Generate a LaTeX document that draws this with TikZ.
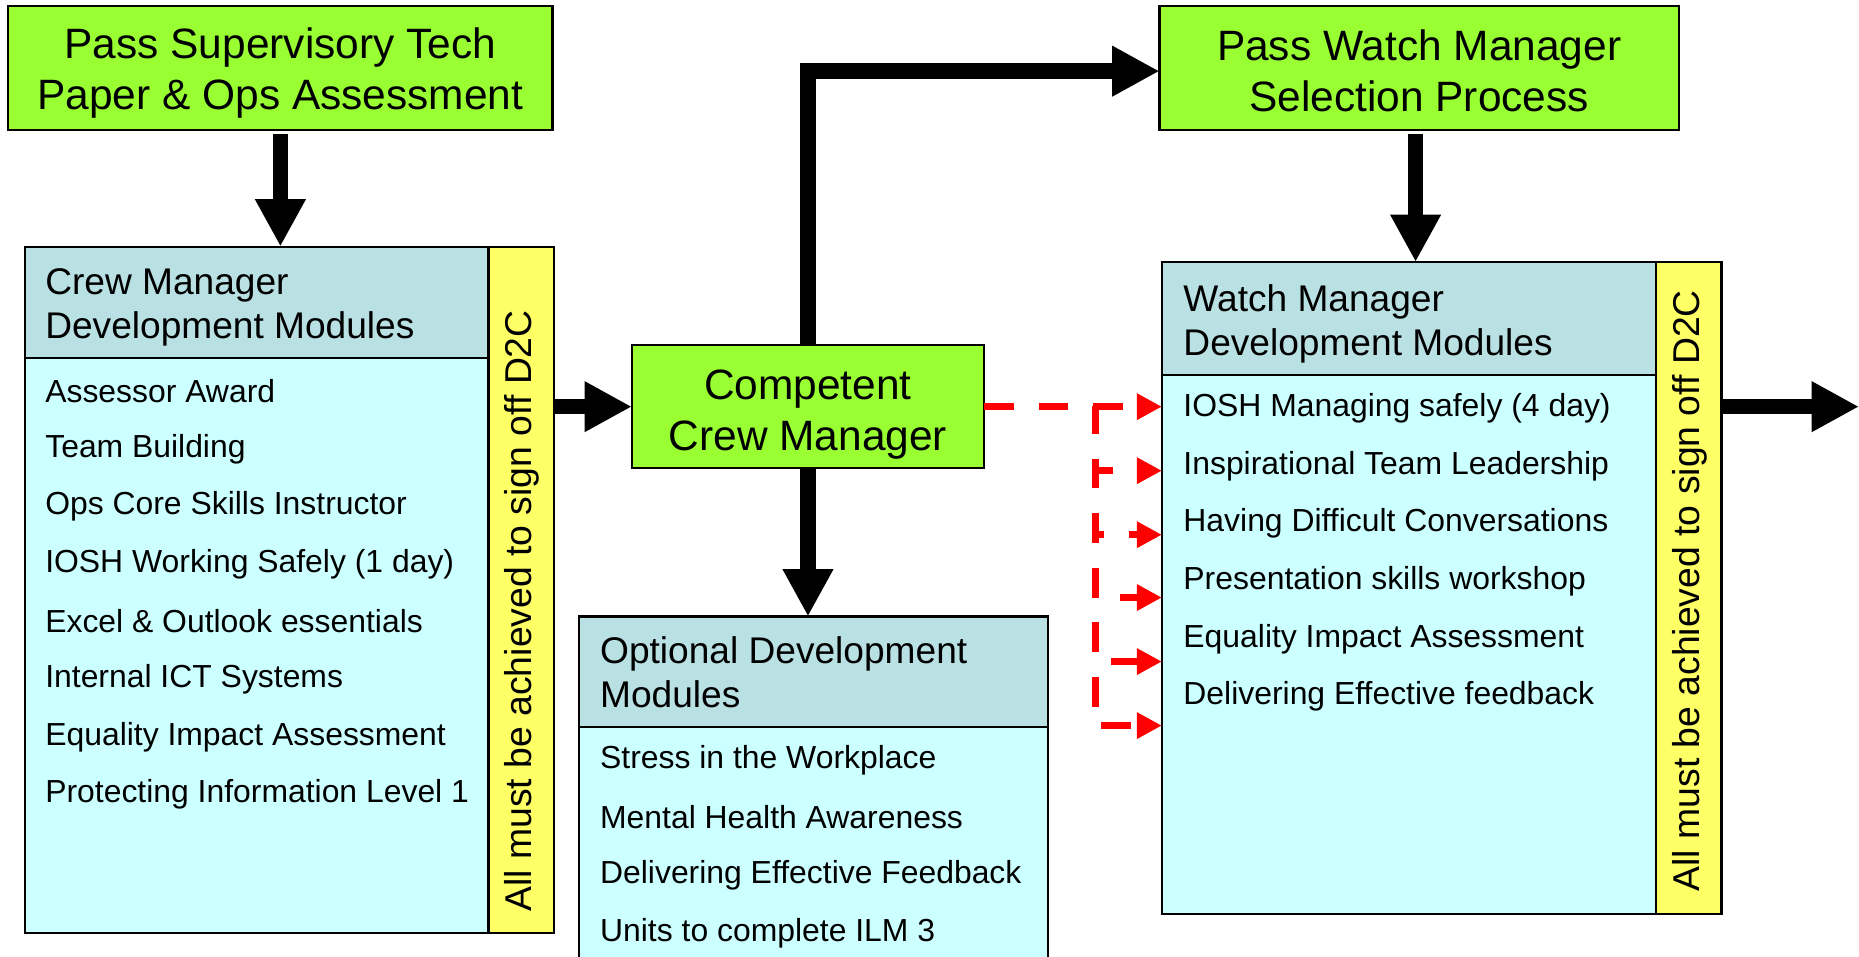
\documentclass[tikz,border=0pt]{standalone}
\usepackage{fontspec}
\setmainfont{Liberation Sans}
\usetikzlibrary{arrows.meta}

\definecolor{passgreen}{RGB}{153,255,51}
\definecolor{hdrblue}{RGB}{185,224,227}
\definecolor{bodycyan}{RGB}{204,255,255}
\definecolor{stripyellow}{RGB}{255,255,102}

\tikzset{
  box/.style={draw=black, line width=1.8pt, inner sep=0pt, outer sep=0pt, anchor=north west},
  greenbox/.style={box, fill=passgreen},
  hdrbox/.style={box, fill=hdrblue},
  bodybox/.style={box, fill=bodycyan},
  stripbox/.style={box, fill=stripyellow},
  bigtext/.style={font=\fontsize{35.8}{43}\selectfont, align=center, inner sep=0pt},
  hdrtext/.style={font=\fontsize{31.3}{37}\selectfont, align=left, anchor=west, inner sep=0pt},
  itemtext/.style={font=\fontsize{26.9}{32}\selectfont, anchor=west, inner sep=0pt},
  striptext/.style={font=\fontsize{31.5}{38}\selectfont, rotate=90, anchor=west, inner sep=0pt},
  bigarrow/.style={draw=black, line width=13pt, -{Triangle[length=40pt,width=40pt]}},
  redlink/.style={draw=red, line width=6pt, dash pattern=on 25pt off 21pt, -{Triangle[length=21pt,width=21pt]}}
}

\begin{document}
\begin{tikzpicture}[x=1pt, y=-1pt]
\path[use as bounding box] (0,0) rectangle (1568,807);
\clip (0,0) rectangle (1568,807);

% top entry boxes
\node[greenbox, minimum width=459pt, minimum height=105pt] (supv) at (7,5) {};
\node[bigtext] (supvtxt) at (236.5,62) {Pass Supervisory Tech\\Paper \& Ops Assessment};

\node[greenbox, minimum width=438pt, minimum height=105pt] (wmsel) at (978,5) {};
\node[bigtext] (wmseltxt) at (1197,60) {Pass Watch Manager\\Selection Process};

% crew manager modules
\node[bodybox, minimum width=391pt, minimum height=485pt] (crewbody) at (21,302) {};
\node[hdrbox, minimum width=391pt, minimum height=94pt] (crewhdr) at (21,208) {};
\node[stripbox, minimum width=55pt, minimum height=579pt] (crewstrip) at (412,208) {};
\node[hdrtext] (crewhdrtxt) at (38,259) {Crew Manager\\Development Modules};
\node[itemtext] (c1) at (38,330) {Assessor Award};
\node[itemtext] (c2) at (38,379) {Team Building};
\node[itemtext] (c3) at (38,427) {Ops Core Skills Instructor};
\node[itemtext] (c4) at (38,476) {IOSH Working Safely (1 day)};
\node[itemtext] (c5) at (38,524) {Excel \& Outlook essentials};
\node[itemtext] (c6) at (38,573) {Internal ICT Systems};
\node[itemtext] (c7) at (38,622) {Equality Impact Assessment};
\node[itemtext] (c8) at (38,670) {Protecting Information Level 1};
\node[striptext] (crewstriptxt) at (440,769) {All must be achieved to sign off D2C};

% competent crew manager
\node[greenbox, minimum width=297pt, minimum height=104pt] (comp) at (533,291) {};
\node[bigtext] (comptxt) at (681.5,350) {Competent\\Crew Manager};

% optional modules
\node[bodybox, minimum width=396pt, minimum height=230pt] (optbody) at (488,613) {};
\node[hdrbox, minimum width=396pt, minimum height=93pt] (opthdr) at (488,520) {};
\node[hdrtext] (opthdrtxt) at (506,567) {Optional Development\\Modules};
\node[itemtext] (o1) at (506,641) {Stress in the Workplace};
\node[itemtext] (o2) at (506,689) {Mental Health Awareness};
\node[itemtext] (o3) at (506,738) {Delivering Effective Feedback};
\node[itemtext] (o4) at (506,787) {Units to complete ILM 3};

% watch manager modules
\node[bodybox, minimum width=417pt, minimum height=455pt] (wmbody) at (980,316) {};
\node[hdrbox, minimum width=417pt, minimum height=95pt] (wmhdr) at (980,221) {};
\node[stripbox, minimum width=55pt, minimum height=550pt] (wmstrip) at (1397,221) {};
\node[hdrtext] (wmhdrtxt) at (998,273) {Watch Manager\\Development Modules};
\node[itemtext] (w1) at (998,344) {IOSH Managing safely (4 day)};
\node[itemtext] (w2) at (998,393) {Inspirational Team Leadership};
\node[itemtext] (w3) at (998,441) {Having Difficult Conversations};
\node[itemtext] (w4) at (998,490) {Presentation skills workshop};
\node[itemtext] (w5) at (998,539) {Equality Impact Assessment};
\node[itemtext] (w6) at (998,587) {Delivering Effective feedback};
\node[striptext] (wmstriptxt) at (1425,752) {All must be achieved to sign off D2C};

% connectors
\coordinate (exit) at (1568,343);
\draw[bigarrow, shorten <=3pt] (supv.south) -- (supv.south |- crewhdr.north);
\draw[bigarrow] (crewstrip.east |- comp.west) -- (comp.west);
\draw[bigarrow] (comp.north) |- (wmsel.west |- 0,60);
\draw[bigarrow] (comp.south) -- (comp.south |- opthdr.north);
\draw[bigarrow, shorten <=3pt] (wmsel.south -| 1194,0) -- (1194,0 |- wmhdr.north);
\draw[bigarrow] (wmstrip.east |- exit) -- (exit);

% dashed feeds into the watch manager modules
\foreach \yy in {343,397,451,504,558,612}{
  \draw[redlink] (comp.east) -| (924,\yy) -- (wmbody.west |- 0,\yy);
}
\end{tikzpicture}
\end{document}
